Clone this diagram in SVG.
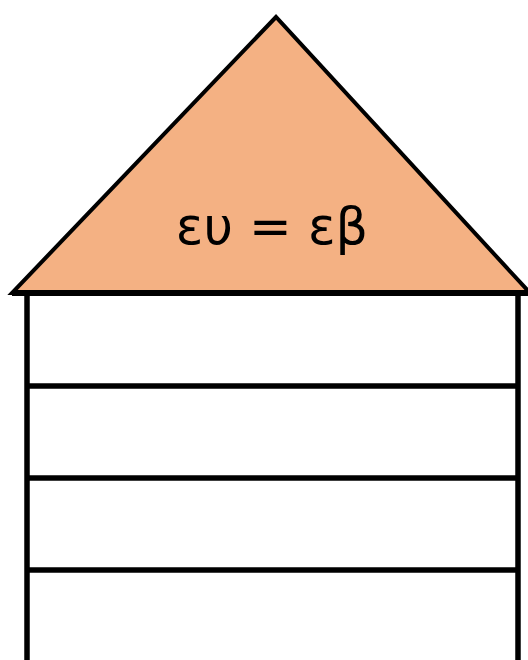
<svg xmlns="http://www.w3.org/2000/svg" width="528" height="660" viewBox="0 0 528 660">
<style>
.ln{stroke:#000;stroke-width:5.5;fill:none}
.lbl{font-family:"DejaVu Sans","Noto Sans",sans-serif;font-size:51px;fill:#000;text-anchor:middle}
</style>
<rect width="528" height="660" fill="#fff"/>
<g id="roof">
<polygon points="276,17 12,293 530,293" fill="#f4b183" stroke="#000" stroke-width="4" stroke-linejoin="miter"/>
<text class="lbl" x="272" y="244">ευ = εβ</text>
</g>
<g id="body">
<line class="ln" x1="12" y1="293" x2="528" y2="293" style="stroke-width:6"/>
<line class="ln" x1="27" y1="293" x2="27" y2="660"/>
<line class="ln" x1="518" y1="293" x2="518" y2="660"/>
<line class="ln" x1="27" y1="386" x2="518" y2="386"/>
<line class="ln" x1="27" y1="478" x2="518" y2="478"/>
<line class="ln" x1="27" y1="570" x2="518" y2="570"/>
</g>
</svg>
